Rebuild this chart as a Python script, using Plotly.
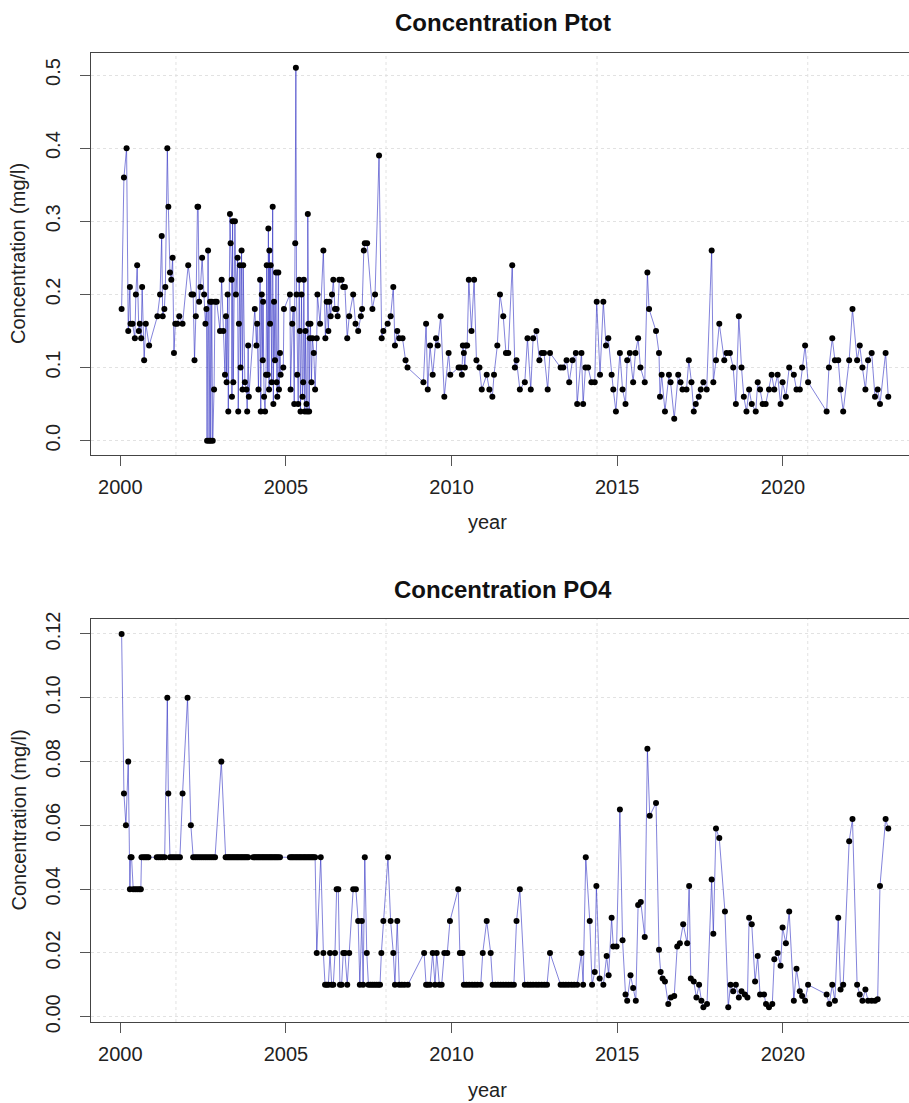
import plotly.graph_objects as go

# ---------------- data (decimal years) ----------------
ptot_year = [
    2000.04, 2000.11, 2000.19, 2000.24, 2000.29, 2000.31, 2000.37, 2000.44, 2000.47, 2000.51,
    2000.56, 2000.59, 2000.63, 2000.66, 2000.72, 2000.77, 2000.87, 2001.12, 2001.20, 2001.25,
    2001.28, 2001.33, 2001.36, 2001.42, 2001.45, 2001.50, 2001.54, 2001.58, 2001.62, 2001.66,
    2001.72, 2001.78, 2001.88, 2002.05, 2002.15, 2002.20, 2002.24, 2002.28, 2002.33, 2002.35,
    2002.38, 2002.42, 2002.47, 2002.53, 2002.57, 2002.60, 2002.62, 2002.65, 2002.68, 2002.71,
    2002.73, 2002.76, 2002.79, 2002.83, 2002.86, 2002.91, 2003.01, 2003.06, 2003.11, 2003.16,
    2003.19, 2003.21, 2003.24, 2003.26, 2003.31, 2003.33, 2003.36, 2003.37, 2003.39, 2003.41,
    2003.46, 2003.49, 2003.54, 2003.56, 2003.58, 2003.61, 2003.63, 2003.66, 2003.69, 2003.71,
    2003.76, 2003.81, 2003.83, 2003.86, 2003.88, 2004.06, 2004.11, 2004.13, 2004.17, 2004.22,
    2004.24, 2004.27, 2004.30, 2004.31, 2004.34, 2004.37, 2004.40, 2004.42, 2004.45, 2004.47,
    2004.49, 2004.50, 2004.52, 2004.54, 2004.57, 2004.60, 2004.62, 2004.64, 2004.67, 2004.70,
    2004.72, 2004.74, 2004.77, 2004.79, 2004.82, 2004.84, 2004.92, 2004.94, 2005.12, 2005.14,
    2005.19, 2005.22, 2005.25, 2005.28, 2005.30, 2005.32, 2005.34, 2005.37, 2005.40, 2005.42,
    2005.44, 2005.47, 2005.50, 2005.52, 2005.54, 2005.57, 2005.59, 2005.62, 2005.64, 2005.66,
    2005.68, 2005.70, 2005.72, 2005.74, 2005.77, 2005.80, 2005.84, 2005.88, 2005.93, 2005.95,
    2006.03, 2006.13, 2006.19, 2006.23, 2006.28, 2006.31, 2006.35, 2006.39, 2006.43, 2006.48,
    2006.53, 2006.56, 2006.61, 2006.68, 2006.73, 2006.78, 2006.85, 2006.91, 2007.03, 2007.10,
    2007.18, 2007.26, 2007.30, 2007.35, 2007.38, 2007.45, 2007.61, 2007.69, 2007.81, 2007.89,
    2007.94, 2008.07, 2008.16, 2008.24, 2008.29, 2008.36, 2008.42, 2008.52, 2008.61, 2008.67,
    2009.15, 2009.23, 2009.28, 2009.35, 2009.43, 2009.53, 2009.58, 2009.67, 2009.78, 2009.91,
    2009.96, 2010.21, 2010.27, 2010.31, 2010.34, 2010.37, 2010.40, 2010.43, 2010.47, 2010.52,
    2010.60, 2010.68, 2010.75, 2010.84, 2010.91, 2011.06, 2011.14, 2011.23, 2011.28, 2011.38,
    2011.46, 2011.56, 2011.64, 2011.71, 2011.83, 2011.91, 2011.96, 2012.06, 2012.21, 2012.29,
    2012.39, 2012.46, 2012.56, 2012.65, 2012.72, 2012.79, 2012.90, 2012.97, 2013.29, 2013.37,
    2013.47, 2013.55, 2013.65, 2013.75, 2013.79, 2013.92, 2013.97, 2014.04, 2014.12, 2014.22,
    2014.32, 2014.38, 2014.48, 2014.58, 2014.66, 2014.73, 2014.83, 2014.88, 2014.96, 2015.08,
    2015.16, 2015.25, 2015.30, 2015.38, 2015.48, 2015.55, 2015.63, 2015.70, 2015.83, 2015.91,
    2015.96, 2016.17, 2016.26, 2016.29, 2016.34, 2016.44, 2016.56, 2016.61, 2016.72, 2016.84,
    2016.91, 2016.97, 2017.09, 2017.16, 2017.24, 2017.31, 2017.37, 2017.46, 2017.52, 2017.60,
    2017.70, 2017.85, 2017.90, 2017.98, 2018.08, 2018.23, 2018.30, 2018.40, 2018.50, 2018.58,
    2018.67, 2018.75, 2018.82, 2018.90, 2018.98, 2019.06, 2019.18, 2019.24, 2019.31, 2019.39,
    2019.48, 2019.58, 2019.66, 2019.74, 2019.84, 2019.93, 2019.99, 2020.09, 2020.19, 2020.33,
    2020.41, 2020.51, 2020.58, 2020.67, 2020.76, 2021.32, 2021.39, 2021.49, 2021.57, 2021.67,
    2021.74, 2021.82, 2022.00, 2022.10, 2022.24, 2022.32, 2022.40, 2022.49, 2022.57, 2022.68,
    2022.78, 2022.86, 2022.93, 2023.10, 2023.18,
]
ptot_val = [
    0.18, 0.36, 0.40, 0.15, 0.21, 0.16, 0.16, 0.14, 0.20, 0.24,
    0.15, 0.16, 0.14, 0.21, 0.11, 0.16, 0.13, 0.17, 0.20, 0.28,
    0.17, 0.18, 0.21, 0.40, 0.32, 0.23, 0.22, 0.25, 0.12, 0.16,
    0.16, 0.17, 0.16, 0.24, 0.20, 0.20, 0.11, 0.17, 0.32, 0.32,
    0.19, 0.21, 0.25, 0.20, 0.16, 0.18, 0.00, 0.26, 0.00, 0.19,
    0.00, 0.19, 0.00, 0.07, 0.19, 0.19, 0.15, 0.22, 0.15, 0.09,
    0.17, 0.08, 0.20, 0.04, 0.31, 0.27, 0.22, 0.06, 0.30, 0.08,
    0.30, 0.20, 0.25, 0.04, 0.16, 0.24, 0.10, 0.26, 0.07, 0.24,
    0.08, 0.07, 0.04, 0.13, 0.06, 0.18, 0.13, 0.16, 0.07, 0.22,
    0.04, 0.20, 0.11, 0.19, 0.06, 0.04, 0.09, 0.24, 0.09, 0.29,
    0.07, 0.26, 0.16, 0.24, 0.08, 0.32, 0.05, 0.19, 0.11, 0.23,
    0.08, 0.06, 0.23, 0.07, 0.12, 0.09, 0.10, 0.18, 0.20, 0.07,
    0.16, 0.18, 0.05, 0.27, 0.51, 0.20, 0.09, 0.05, 0.22, 0.15,
    0.04, 0.20, 0.06, 0.08, 0.22, 0.04, 0.15, 0.05, 0.04, 0.31,
    0.16, 0.04, 0.14, 0.16, 0.08, 0.14, 0.12, 0.07, 0.14, 0.20,
    0.16, 0.26, 0.14, 0.19, 0.15, 0.19, 0.17, 0.20, 0.22, 0.18,
    0.18, 0.17, 0.22, 0.22, 0.21, 0.21, 0.14, 0.17, 0.20, 0.16,
    0.15, 0.17, 0.18, 0.26, 0.27, 0.27, 0.18, 0.20, 0.39, 0.14,
    0.15, 0.16, 0.17, 0.21, 0.13, 0.15, 0.14, 0.14, 0.11, 0.10,
    0.08, 0.16, 0.07, 0.13, 0.09, 0.14, 0.13, 0.17, 0.06, 0.12,
    0.09, 0.10, 0.10, 0.09, 0.13, 0.12, 0.10, 0.13, 0.13, 0.22,
    0.15, 0.22, 0.11, 0.10, 0.07, 0.09, 0.07, 0.06, 0.09, 0.13,
    0.20, 0.17, 0.12, 0.12, 0.24, 0.10, 0.11, 0.07, 0.08, 0.14,
    0.07, 0.14, 0.15, 0.11, 0.12, 0.12, 0.07, 0.12, 0.10, 0.10,
    0.11, 0.08, 0.11, 0.12, 0.05, 0.12, 0.05, 0.10, 0.10, 0.08,
    0.08, 0.19, 0.09, 0.19, 0.13, 0.14, 0.09, 0.07, 0.04, 0.12,
    0.07, 0.05, 0.11, 0.12, 0.08, 0.12, 0.14, 0.10, 0.08, 0.23,
    0.18, 0.15, 0.12, 0.06, 0.09, 0.04, 0.09, 0.08, 0.03, 0.09,
    0.08, 0.07, 0.07, 0.11, 0.08, 0.04, 0.05, 0.06, 0.07, 0.08,
    0.07, 0.26, 0.08, 0.11, 0.16, 0.11, 0.12, 0.12, 0.10, 0.05,
    0.17, 0.10, 0.06, 0.04, 0.07, 0.05, 0.04, 0.08, 0.07, 0.05,
    0.05, 0.07, 0.09, 0.07, 0.09, 0.05, 0.08, 0.06, 0.10, 0.09,
    0.07, 0.07, 0.10, 0.13, 0.08, 0.04, 0.10, 0.14, 0.11, 0.11,
    0.07, 0.04, 0.11, 0.18, 0.11, 0.13, 0.10, 0.07, 0.11, 0.12,
    0.06, 0.07, 0.05, 0.12, 0.06,
]

po4_year = [
    2000.04, 2000.11, 2000.17, 2000.24, 2000.29, 2000.31, 2000.34, 2000.39, 2000.45, 2000.51,
    2000.57, 2000.62, 2000.64, 2000.70, 2000.75, 2000.80, 2000.85, 2001.10, 2001.16, 2001.22,
    2001.28, 2001.34, 2001.42, 2001.45, 2001.50, 2001.56, 2001.62, 2001.68, 2001.74, 2001.80,
    2001.88, 2002.03, 2002.13, 2002.20, 2002.26, 2002.32, 2002.38, 2002.44, 2002.50, 2002.56,
    2002.62, 2002.68, 2002.74, 2002.80, 2002.86, 2003.05, 2003.18, 2003.22, 2003.26, 2003.30,
    2003.34, 2003.38, 2003.42, 2003.46, 2003.50, 2003.54, 2003.58, 2003.62, 2003.66, 2003.70,
    2003.74, 2003.78, 2003.82, 2003.86, 2004.01, 2004.05, 2004.09, 2004.13, 2004.17, 2004.21,
    2004.25, 2004.29, 2004.33, 2004.37, 2004.41, 2004.45, 2004.49, 2004.53, 2004.57, 2004.61,
    2004.65, 2004.69, 2004.73, 2004.77, 2004.82, 2005.12, 2005.16, 2005.20, 2005.24, 2005.28,
    2005.32, 2005.36, 2005.40, 2005.44, 2005.48, 2005.52, 2005.56, 2005.60, 2005.64, 2005.68,
    2005.72, 2005.76, 2005.80, 2005.84, 2005.88, 2005.93, 2006.05, 2006.13, 2006.18, 2006.23,
    2006.28, 2006.33, 2006.38, 2006.43, 2006.48, 2006.53, 2006.58, 2006.63, 2006.68, 2006.73,
    2006.78, 2006.85, 2006.91, 2007.03, 2007.11, 2007.18, 2007.23, 2007.29, 2007.33, 2007.38,
    2007.44, 2007.49, 2007.55, 2007.61, 2007.67, 2007.73, 2007.79, 2007.84, 2007.88, 2007.94,
    2008.08, 2008.16, 2008.24, 2008.29, 2008.36, 2008.42, 2008.50, 2008.58, 2008.68, 2009.17,
    2009.23, 2009.28, 2009.35, 2009.43, 2009.50, 2009.55, 2009.63, 2009.70, 2009.78, 2009.87,
    2009.95, 2010.20, 2010.25, 2010.33, 2010.37, 2010.45, 2010.53, 2010.62, 2010.70, 2010.78,
    2010.88, 2010.94, 2011.06, 2011.18, 2011.24, 2011.32, 2011.40, 2011.48, 2011.56, 2011.64,
    2011.72, 2011.80, 2011.88, 2011.96, 2012.06, 2012.21, 2012.30, 2012.38, 2012.46, 2012.55,
    2012.63, 2012.72, 2012.80, 2012.88, 2012.97, 2013.29, 2013.37, 2013.45, 2013.53, 2013.62,
    2013.70, 2013.79, 2013.92, 2013.97, 2014.05, 2014.17, 2014.24, 2014.32, 2014.37, 2014.47,
    2014.58, 2014.68, 2014.74, 2014.83, 2014.88, 2014.98, 2015.08, 2015.16, 2015.25, 2015.30,
    2015.40, 2015.48, 2015.56, 2015.63, 2015.71, 2015.83, 2015.91, 2015.98, 2016.17, 2016.26,
    2016.31, 2016.37, 2016.44, 2016.54, 2016.62, 2016.72, 2016.81, 2016.89, 2016.99, 2017.11,
    2017.17, 2017.22, 2017.31, 2017.39, 2017.47, 2017.54, 2017.60, 2017.71, 2017.85, 2017.90,
    2017.98, 2018.08, 2018.25, 2018.35, 2018.42, 2018.50, 2018.58, 2018.67, 2018.75, 2018.85,
    2018.93, 2018.98, 2019.06, 2019.16, 2019.24, 2019.31, 2019.43, 2019.49, 2019.58, 2019.68,
    2019.74, 2019.84, 2019.93, 2019.99, 2020.09, 2020.19, 2020.33, 2020.41, 2020.51, 2020.58,
    2020.67, 2020.76, 2021.32, 2021.40, 2021.49, 2021.57, 2021.67, 2021.74, 2021.82, 2022.00,
    2022.10, 2022.24, 2022.32, 2022.40, 2022.49, 2022.57, 2022.68, 2022.78, 2022.86, 2022.93,
    2023.10, 2023.18,
]
po4_val = [
    0.120, 0.070, 0.060, 0.080, 0.040, 0.050, 0.050, 0.040, 0.040, 0.040,
    0.040, 0.040, 0.050, 0.050, 0.050, 0.050, 0.050, 0.050, 0.050, 0.050,
    0.050, 0.050, 0.100, 0.070, 0.050, 0.050, 0.050, 0.050, 0.050, 0.050,
    0.070, 0.100, 0.060, 0.050, 0.050, 0.050, 0.050, 0.050, 0.050, 0.050,
    0.050, 0.050, 0.050, 0.050, 0.050, 0.080, 0.050, 0.050, 0.050, 0.050,
    0.050, 0.050, 0.050, 0.050, 0.050, 0.050, 0.050, 0.050, 0.050, 0.050,
    0.050, 0.050, 0.050, 0.050, 0.050, 0.050, 0.050, 0.050, 0.050, 0.050,
    0.050, 0.050, 0.050, 0.050, 0.050, 0.050, 0.050, 0.050, 0.050, 0.050,
    0.050, 0.050, 0.050, 0.050, 0.050, 0.050, 0.050, 0.050, 0.050, 0.050,
    0.050, 0.050, 0.050, 0.050, 0.050, 0.050, 0.050, 0.050, 0.050, 0.050,
    0.050, 0.050, 0.050, 0.050, 0.050, 0.020, 0.050, 0.020, 0.010, 0.010,
    0.010, 0.020, 0.010, 0.010, 0.020, 0.040, 0.040, 0.010, 0.010, 0.020,
    0.020, 0.010, 0.020, 0.040, 0.040, 0.030, 0.010, 0.030, 0.010, 0.050,
    0.020, 0.010, 0.010, 0.010, 0.010, 0.010, 0.010, 0.010, 0.020, 0.030,
    0.050, 0.030, 0.020, 0.010, 0.030, 0.010, 0.010, 0.010, 0.010, 0.020,
    0.010, 0.010, 0.010, 0.020, 0.010, 0.020, 0.010, 0.010, 0.020, 0.020,
    0.030, 0.040, 0.020, 0.020, 0.010, 0.010, 0.010, 0.010, 0.010, 0.010,
    0.010, 0.020, 0.030, 0.020, 0.010, 0.010, 0.010, 0.010, 0.010, 0.010,
    0.010, 0.010, 0.010, 0.030, 0.040, 0.010, 0.010, 0.010, 0.010, 0.010,
    0.010, 0.010, 0.010, 0.010, 0.020, 0.010, 0.010, 0.010, 0.010, 0.010,
    0.010, 0.010, 0.020, 0.010, 0.050, 0.030, 0.010, 0.014, 0.041, 0.012,
    0.010, 0.019, 0.013, 0.031, 0.022, 0.022, 0.065, 0.024, 0.007, 0.005,
    0.013, 0.009, 0.005, 0.035, 0.036, 0.025, 0.084, 0.063, 0.067, 0.021,
    0.014, 0.012, 0.011, 0.004, 0.006, 0.0065, 0.022, 0.023, 0.029, 0.023,
    0.041, 0.012, 0.011, 0.006, 0.010, 0.005, 0.003, 0.004, 0.043, 0.026,
    0.059, 0.056, 0.033, 0.003, 0.010, 0.008, 0.010, 0.006, 0.008, 0.007,
    0.006, 0.031, 0.029, 0.011, 0.019, 0.007, 0.007, 0.004, 0.003, 0.004,
    0.018, 0.020, 0.016, 0.028, 0.023, 0.033, 0.005, 0.015, 0.008, 0.0065,
    0.005, 0.010, 0.007, 0.004, 0.010, 0.005, 0.031, 0.0085, 0.010, 0.055,
    0.062, 0.010, 0.007, 0.005, 0.0085, 0.005, 0.005, 0.005, 0.0055, 0.041,
    0.062, 0.059,
]

x_ticks = [2000, 2005, 2010, 2015, 2020]
ptot_ticks = [0.0, 0.1, 0.2, 0.3, 0.4, 0.5]
po4_ticks = [0.00, 0.02, 0.04, 0.06, 0.08, 0.10, 0.12]
vgrid_years = [2001.68, 2008.02, 2014.39, 2020.75]

titles = ["Concentration Ptot", "Concentration PO4"]
x_label = "year"
y_label = "Concentration (mg/l)"

# ---------------- layout helpers ----------------
W, H = 909, 1103
FONT = "Liberation Sans, Arial, Helvetica, sans-serif"


def fx(p):
    return p / W


def fy(p):
    return 1 - p / H


line_style = dict(color="rgba(30,30,190,0.55)", width=1)
marker_style = dict(color="black", size=6)
GRID = "#e2e2e2"

fig = go.Figure()
fig.add_trace(go.Scatter(x=ptot_year, y=ptot_val, mode="lines+markers",
                         line=line_style, marker=marker_style,
                         xaxis="x", yaxis="y", showlegend=False))
fig.add_trace(go.Scatter(x=po4_year, y=po4_val, mode="lines+markers",
                         line=line_style, marker=marker_style,
                         xaxis="x2", yaxis="y2", showlegend=False))

x_common = dict(
    domain=[fx(91), 1.0], range=[1999.116, 2023.806],
    tickvals=x_ticks, ticktext=[str(t) for t in x_ticks],
    ticks="outside", ticklen=10, tickcolor="#555", tickwidth=1,
    showline=True, linecolor="#444", linewidth=1, mirror=True,
    showgrid=False, zeroline=False,
    tickfont=dict(family=FONT, size=20, color="#222"),
    ticklabelstandoff=4, automargin=False,
)
y_common = dict(
    ticks="outside", ticklen=10, tickcolor="#555", tickwidth=1,
    tickangle=-90,
    showline=True, linecolor="#444", linewidth=1, mirror=False,
    showgrid=True, gridcolor=GRID, griddash="dot", gridwidth=1,
    zeroline=False,
    tickfont=dict(family=FONT, size=20, color="#222"),
    ticklabelstandoff=12, automargin=False,
)

fig.update_layout(
    width=W, height=H,
    margin=dict(l=0, r=0, t=0, b=0),
    paper_bgcolor="white", plot_bgcolor="white",
    xaxis=dict(x_common, anchor="y"),
    yaxis=dict(y_common, anchor="x",
               domain=[fy(455), fy(53)], range=[-0.0196, 0.5301],
               tickvals=ptot_ticks, ticktext=[f"{v:.1f}" for v in ptot_ticks]),
    xaxis2=dict(x_common, anchor="y2"),
    yaxis2=dict(y_common, anchor="x2",
                domain=[fy(1022), fy(619)], range=[-0.00166, 0.1247],
                tickvals=po4_ticks, ticktext=[f"{v:.2f}" for v in po4_ticks]),
)

shapes = []
for xa, ya in (("x", "y domain"), ("x2", "y2 domain")):
    for g in vgrid_years:
        shapes.append(dict(type="line", xref=xa, yref=ya, x0=g, x1=g, y0=0, y1=1,
                           line=dict(color=GRID, width=1, dash="dot"),
                           layer="below"))
fig.update_layout(shapes=shapes)

ann = []
for title, ty, xlab_y, ymid in ((titles[0], 22, 522, 254),
                                (titles[1], 589, 1090, 820.5)):
    ann.append(dict(text=f"<b>{title}</b>", x=fx(503), y=fy(ty), xref="paper", yref="paper",
                    xanchor="center", yanchor="middle", showarrow=False,
                    font=dict(family=FONT, size=24, color="#111")))
    ann.append(dict(text=x_label, x=fx(487), y=fy(xlab_y), xref="paper", yref="paper",
                    xanchor="center", yanchor="middle", showarrow=False,
                    font=dict(family=FONT, size=20, color="#222")))
    ann.append(dict(text=y_label, x=fx(18), y=fy(ymid), xref="paper", yref="paper",
                    xanchor="center", yanchor="middle", showarrow=False, textangle=-90,
                    font=dict(family=FONT, size=20, color="#222")))
fig.update_layout(annotations=ann)

fig.write_html("out.html")
